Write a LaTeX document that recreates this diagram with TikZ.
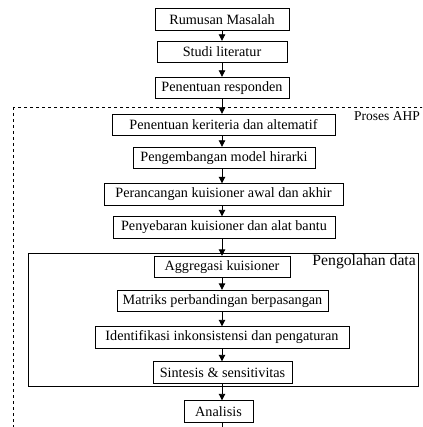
\documentclass[tikz,border=0pt]{standalone}
\usepackage{fontspec}
\setmainfont{Liberation Serif}
\usetikzlibrary{arrows.meta,positioning}

\begin{document}
\begin{tikzpicture}[x=1pt,y=-1pt]
    \tikzstyle{every node}+=[font=\fontsize{14.2}{16}\selectfont]
    \tikzstyle{box}=[draw=black,line width=0.9pt,minimum height=21.5pt,inner sep=0pt]
    \tikzstyle{arr}=[draw=black,line width=0.9pt,-{Triangle[length=6.5pt,width=6.5pt]}]
    \useasboundingbox (0,0) rectangle (422,427);
    \clip (0,0) rectangle (422,427);
    % kotak proses AHP dan pengolahan data
    \draw [black,dashed,line width=0.7pt] (13,107) rectangle (440,440);
    \draw [black,line width=0.8pt] (28,253) rectangle (418,386);
    \node [anchor=east,inner sep=0pt,font=\fontsize{13.5}{15}\selectfont] (ahp) at (420,116.5) {Proses AHP};
    \node [anchor=east,inner sep=0pt,font=\fontsize{15.7}{17}\selectfont] (olah) at (416,262) {Pengolahan data};
    % langkah
    \node [box,minimum width=134pt] (rumusan) at (222,19.5) {Rumusan Masalah};
    \node [box,minimum width=130pt] (studi) at (222,52) {Studi literatur};
    \node [box,minimum width=134pt] (responden) at (222,88) {Penentuan responden};
    \node [box,minimum width=223pt] (kriteria) at (223.5,125) {Penentuan keriteria dan altematif};
    \node [box,minimum width=182pt] (model) at (224,158) {Pengembangan model hirarki};
    \node [box,minimum width=239pt] (rancang) at (223.5,194.5) {Perancangan kuisioner awal dan akhir};
    \node [box,minimum width=222pt] (sebar) at (224,227.5) {Penyebaran kuisioner dan alat bantu};
    \node [box,minimum width=136pt] (agregasi) at (222,267) {Aggregasi kuisioner};
    \node [box,minimum width=211pt] (matriks) at (222.5,301) {Matriks perbandingan berpasangan};
    \node [box,minimum width=254pt] (inkon) at (222,337.5) {Identifikasi inkonsistensi dan pengaturan};
    \node [box,minimum width=139pt] (sintesis) at (222.5,372.5) {Sintesis \& sensitivitas};
    \node [box,minimum width=69pt] (analisis) at (218.5,411.5) {Analisis};
    \coordinate (keluar) at (222,440);
    % panah
    \draw [arr] (rumusan.south -| 222,0) -- (studi.north -| 222,0);
    \draw [arr] (studi.south -| 222,0) -- (responden.north -| 222,0);
    \draw [arr] (responden.south -| 222,0) -- (kriteria.north -| 222,0);
    \draw [arr] (kriteria.south -| 222,0) -- (model.north -| 222,0);
    \draw [arr] (model.south -| 222,0) -- (rancang.north -| 222,0);
    \draw [arr] (rancang.south -| 222,0) -- (sebar.north -| 222,0);
    \draw [arr] (sebar.south -| 222,0) -- (agregasi.north -| 222,0);
    \draw [arr] (agregasi.south -| 222,0) -- (matriks.north -| 222,0);
    \draw [arr] (matriks.south -| 222,0) -- (inkon.north -| 222,0);
    \draw [arr] (inkon.south -| 222,0) -- (sintesis.north -| 222,0);
    \draw [arr] (sintesis.south -| 222,0) -- (analisis.north -| 222,0);
    \draw [black,line width=0.9pt] (analisis.south -| 222,0) -- (keluar);
\end{tikzpicture}
\end{document}
